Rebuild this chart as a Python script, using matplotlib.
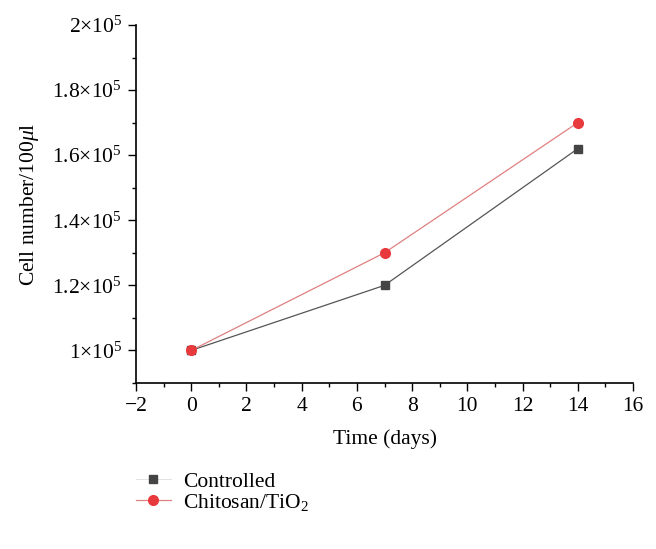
import matplotlib.pyplot as plt
from matplotlib.ticker import FuncFormatter, MultipleLocator
from matplotlib.lines import Line2D

days = [0, 7, 14]
controlled = [1.0e5, 1.2e5, 1.62e5]
chitosan = [1.0e5, 1.3e5, 1.7e5]

plt.rcParams['font.family'] = 'Liberation Serif'
plt.rcParams['mathtext.fontset'] = 'custom'
plt.rcParams['mathtext.rm'] = 'Liberation Serif'
plt.rcParams['mathtext.it'] = 'Liberation Serif:italic'

fig = plt.figure(figsize=(6.56, 5.49), dpi=100)
ax = fig.add_axes([0.2073, 0.3024, 0.7577, 0.6521])

ax.plot(days, controlled, color='#555555', lw=0.9, marker='s', ms=6,
        mfc='#444444', mec='#444444', zorder=2)
ax.plot(days, chitosan, color='#e08080', lw=0.9, marker='o', ms=7,
        mfc='#e8393c', mec='#e8393c', zorder=3)

ax.set_xlim(-2, 16)
ax.set_ylim(0.9e5, 2.0e5)
ax.xaxis.set_major_locator(MultipleLocator(2))
ax.xaxis.set_minor_locator(MultipleLocator(1))
ax.yaxis.set_major_locator(MultipleLocator(0.2e5))
ax.yaxis.set_minor_locator(MultipleLocator(0.1e5))


def fmt_y(v, pos):
    m = v / 1e5
    s = '1' if abs(m - 1) < 1e-6 else ('2' if abs(m - 2) < 1e-6 else f'{m:.1f}')
    return s + r'$\times$10$^5$'


ax.yaxis.set_major_formatter(FuncFormatter(fmt_y))
ax.xaxis.set_major_formatter(FuncFormatter(lambda v, p: f'{v:.0f}'.replace('-', '\u2212')))

for s in ['top', 'right']:
    ax.spines[s].set_visible(False)
for s in ['left', 'bottom']:
    ax.spines[s].set_linewidth(1.2)
ax.tick_params(which='major', length=6, width=1.0, labelsize=15.5, direction='out')
ax.tick_params(which='minor', length=3, width=1.0, direction='out')
ax.tick_params(axis='y', pad=4)
ax.tick_params(axis='x', pad=4)

ax.set_xlabel('Time (days)', fontsize=15.5, labelpad=10)
ax.set_ylabel(r'Cell number/100$\mathit{\mu}$l', fontsize=15.5, labelpad=8)

handles = [
    Line2D([], [], color='#dddddd', lw=0.6, marker='s', ms=6, mfc='#444444', mec='#444444'),
    Line2D([], [], color='#e08080', lw=0.9, marker='o', ms=7, mfc='#e8393c', mec='#e8393c'),
]
fig.legend(handles, ['Controlled', r'Chitosan/TiO$_2$'], loc='upper left',
           bbox_to_anchor=(0.191, 0.16), frameon=False, fontsize=15.5,
           handlelength=1.6, handletextpad=0.6, labelspacing=0.0, borderpad=0)

fig.savefig('out.png', dpi=100)
